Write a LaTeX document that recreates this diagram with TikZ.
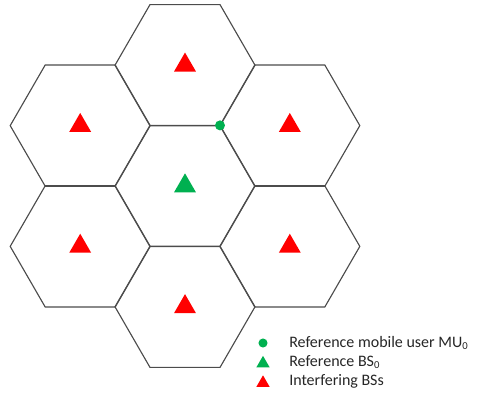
\documentclass[tikz,border=0pt]{standalone}
\usepackage{fontspec}
\setmainfont{Carlito}
\usetikzlibrary{shapes.geometric,calc}
\definecolor{mygreen}{HTML}{00B050}
\definecolor{myred}{HTML}{FF0000}
\tikzset{
  hexline/.style={draw=black!70, line width=0.85pt, line join=miter},
  bstri/.style={regular polygon, regular polygon sides=3, inner sep=0pt, minimum size=19pt, fill=#1, draw=none},
  legtri/.style={regular polygon, regular polygon sides=3, inner sep=0pt, minimum size=11.5pt, fill=#1, draw=none},
  mudot/.style={circle, fill=mygreen, inner sep=0pt, minimum size=#1, draw=none},
  legtext/.style={anchor=west, inner sep=0pt, font=\fontsize{12}{14}\selectfont, text=black!85}
}
\begin{document}
\begin{tikzpicture}[x=0.75pt, y=-0.75pt]
\useasboundingbox (0,0) rectangle (477,403);
% cell centres
\coordinate (c0) at (185,186);
\coordinate (cN) at (185,65.2);
\coordinate (cS) at (185,306.8);
\coordinate (cNE) at (289.8,125.6);
\coordinate (cSE) at (289.8,246.4);
\coordinate (cNW) at (80.2,125.6);
\coordinate (cSW) at (80.2,246.4);
% hexagons
\foreach \c in {c0,cN,cS,cNE,cSE,cNW,cSW}{
  \draw[hexline] (\c) +(0:70) -- +(60:70) -- +(120:70) -- +(180:70) -- +(240:70) -- +(300:70) -- cycle;
}
% base stations
\node[bstri=mygreen] (bs0) at (c0) {};
\node[bstri=myred] (bsN) at (cN) {};
\node[bstri=myred] (bsS) at (cS) {};
\node[bstri=myred] (bsNE) at (cNE) {};
\node[bstri=myred] (bsSE) at (cSE) {};
\node[bstri=myred] (bsNW) at (cNW) {};
\node[bstri=myred] (bsSW) at (cSW) {};
% mobile user
\node[mudot=7.5pt] (mu) at ($(c0)+(-60:70)$) {};
% legend
\node[mudot=6.8pt] (l1) at (263,343) {};
\node[legtri=mygreen] (l2) at (263,363.5) {};
\node[legtri=myred] (l3) at (263,383) {};
\node[legtext] (t1) at (289,343) {Reference mobile user MU\textsubscript{0}};
\node[legtext] (t2) at (289,362) {Reference BS\textsubscript{0}};
\node[legtext] (t3) at (289,381) {Interfering BSs};
\end{tikzpicture}
\end{document}
